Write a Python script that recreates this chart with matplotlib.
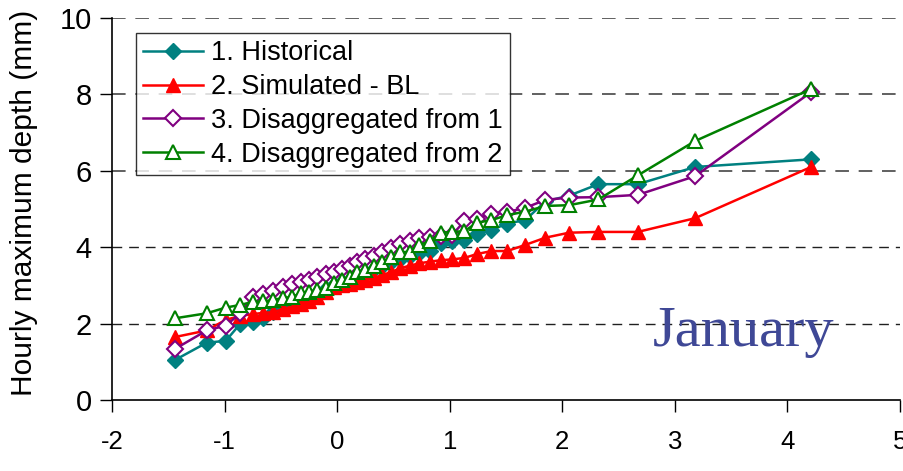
import matplotlib
matplotlib.use("Agg")
import matplotlib.pyplot as plt

plt.rcParams['font.family'] = ['Liberation Sans', 'DejaVu Sans']
plt.rcParams['axes.unicode_minus'] = False

# Gumbel reduced variate (plotting positions)
reduced_variate = [-1.44, -1.16, -0.99, -0.86, -0.75, -0.66, -0.57, -0.48, -0.40, -0.32,
                   -0.25, -0.18, -0.10, -0.03, 0.04, 0.11, 0.18, 0.25, 0.33, 0.40,
                   0.48, 0.56, 0.65, 0.73, 0.82, 0.92, 1.02, 1.13, 1.24, 1.37,
                   1.51, 1.67, 1.85, 2.06, 2.32, 2.67, 3.18, 4.21]

historical = [1.05, 1.50, 1.55, 2.00, 2.05, 2.15, 2.30, 2.40, 2.50, 2.60,
              2.70, 2.80, 2.90, 3.00, 3.08, 3.15, 3.25, 3.33, 3.42, 3.50,
              3.60, 3.70, 3.78, 3.85, 3.90, 4.10, 4.15, 4.20, 4.35, 4.45,
              4.62, 4.71, 5.20, 5.35, 5.65, 5.65, 6.10, 6.30]

simulated_bl = [1.65, 1.82, 2.10, 2.20, 2.25, 2.28, 2.30, 2.38, 2.45, 2.52,
                2.60, 2.70, 2.82, 2.95, 3.00, 3.05, 3.10, 3.15, 3.20, 3.27,
                3.35, 3.45, 3.52, 3.58, 3.62, 3.66, 3.68, 3.72, 3.82, 3.90,
                3.90, 4.06, 4.25, 4.38, 4.40, 4.40, 4.76, 6.10]

disagg_from_1 = [1.34, 1.82, 1.95, 2.27, 2.70, 2.77, 2.85, 2.95, 3.05, 3.09,
                 3.14, 3.22, 3.30, 3.35, 3.42, 3.50, 3.60, 3.68, 3.78, 3.88,
                 3.98, 4.08, 4.16, 4.24, 4.28, 4.30, 4.32, 4.68, 4.75, 4.88,
                 4.92, 5.03, 5.24, 5.30, 5.31, 5.37, 5.86, 8.06]

disagg_from_2 = [2.14, 2.27, 2.42, 2.49, 2.57, 2.58, 2.62, 2.67, 2.70, 2.80,
                 2.83, 2.88, 2.93, 3.06, 3.14, 3.22, 3.35, 3.40, 3.50, 3.62,
                 3.74, 3.87, 3.88, 4.06, 4.15, 4.38, 4.40, 4.42, 4.64, 4.71,
                 4.84, 4.93, 5.08, 5.10, 5.25, 5.88, 6.78, 8.14]

labels = ["1. Historical", "2. Simulated - BL",
          "3. Disaggregated from 1", "4. Disaggregated from 2"]

x_ticks = [-2, -1, 0, 1, 2, 3, 4, 5]
y_ticks = [0, 2, 4, 6, 8, 10]

fig = plt.figure(figsize=(9.04, 4.71), dpi=100)
ax = fig.add_axes([0.124, 0.1507, 0.8716, 0.8111])

ax.plot(reduced_variate, historical, color='#008080', lw=1.8, marker='D',
        markersize=8, markerfacecolor='#008080', markeredgecolor='#008080',
        label=labels[0], zorder=3)
ax.plot(reduced_variate, simulated_bl, color='#FF0000', lw=1.8, marker='^',
        markersize=10.5, markerfacecolor='#FF0000', markeredgecolor='#FF0000',
        label=labels[1], zorder=4)
ax.plot(reduced_variate, disagg_from_1, color='#800080', lw=1.8, marker='D',
        markersize=8, markerfacecolor='white', markeredgecolor='#800080',
        markeredgewidth=1.5, label=labels[2], zorder=5)
ax.plot(reduced_variate, disagg_from_2, color='#008000', lw=1.8, marker='^',
        markersize=10.5, markerfacecolor='white', markeredgecolor='#008000',
        markeredgewidth=1.5, label=labels[3], zorder=6)

ax.set_xlim(-2, 5)
ax.set_ylim(0, 10)
ax.set_xticks(x_ticks)
ax.set_yticks(y_ticks)
ax.set_xticklabels([str(v) for v in x_ticks])
ax.set_yticklabels([str(v) for v in y_ticks])

# dashed horizontal reference lines: darker at the low levels, grey above
for level in y_ticks[1:]:
    shade = '#202020' if level <= 4 else '#606060'
    width = 1.0 if level <= 4 else 1.4
    ax.axhline(level, color=shade, lw=width, ls=(0, (7, 5)), zorder=1)

for side in ('top', 'right'):
    ax.spines[side].set_visible(False)
for side in ('left', 'bottom'):
    ax.spines[side].set_linewidth(1.2)
    ax.spines[side].set_color('black')

ax.tick_params(axis='y', direction='out', length=8.5, width=1.0, pad=6, labelsize=21)
ax.tick_params(axis='x', direction='out', length=8.5, width=1.0, pad=13, labelsize=18.5)

ax.set_ylabel("Hourly maximum depth (mm)", fontsize=21.5)
ax.yaxis.set_label_coords(-0.094, 0.515)

leg = ax.legend(loc='upper left', bbox_to_anchor=(0.0305, 0.961), borderaxespad=0,
                fontsize=19.5, frameon=True, fancybox=False, handlelength=2.2,
                handletextpad=0.3, labelspacing=0.29, borderpad=0.27)
leg.get_frame().set_edgecolor('black')
leg.get_frame().set_linewidth(1.0)

ax.text(0.686, 0.142, "January", transform=ax.transAxes, fontsize=42,
        family=['Liberation Serif', 'DejaVu Serif'], color='#3f4896',
        ha='left', va='baseline', zorder=7)

fig.savefig("out.png", dpi=100)
